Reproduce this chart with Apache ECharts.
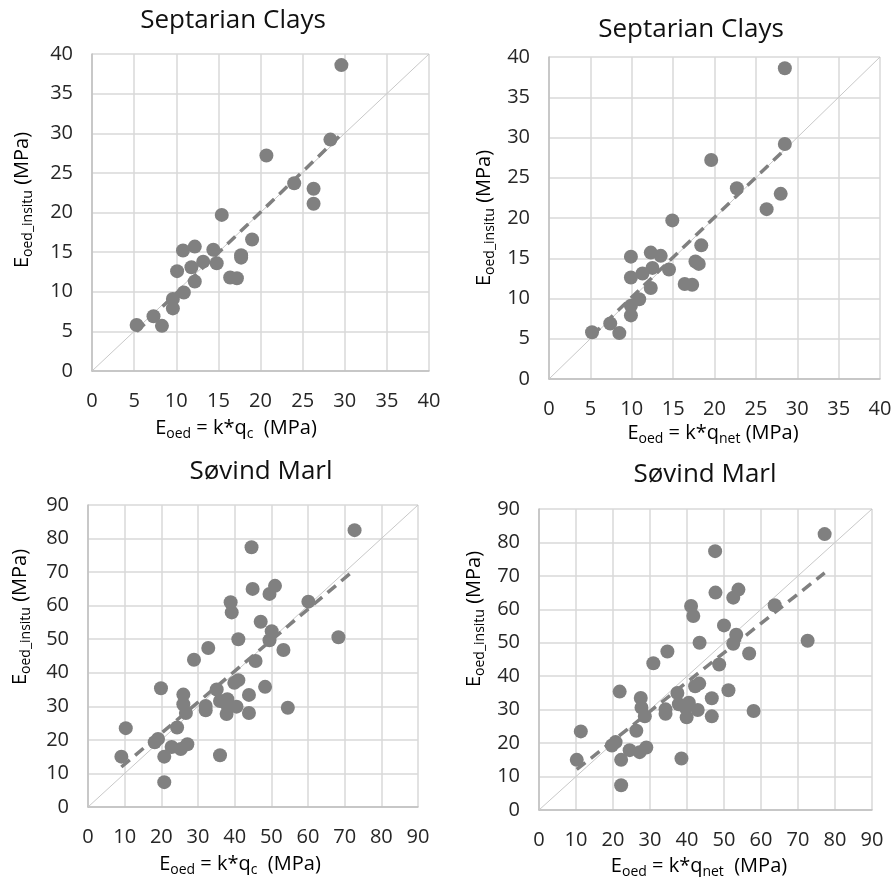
<!DOCTYPE html>
<html>
<head>
<meta charset="utf-8">
<script src="https://cdn.jsdelivr.net/npm/echarts@6/dist/echarts.min.js"></script>
<style>
html,body{margin:0;padding:0;background:#fff;}
#c{width:896px;height:882px;}
</style>
</head>
<body>
<div id="c"></div>
<script>
// ---- Septarian Clays ----
const sepY     = [38.6, 29.2, 27.2, 23.7, 23.0, 21.1, 19.7, 16.6, 15.7, 15.3, 15.2, 14.6, 14.3, 13.8, 13.6, 13.1, 12.6, 11.8, 11.7, 11.3, 9.9, 9.1, 7.9, 6.9, 5.7, 5.8];
const sepXqc   = [29.6, 28.3, 20.7, 24.0, 26.3, 26.3, 15.4, 19.0, 12.2, 14.4, 10.8, 17.7, 17.7, 13.2, 14.8, 11.8, 10.1, 16.4, 17.2, 12.2, 10.9, 9.6, 9.6, 7.3, 8.3, 5.3];
const sepXqnet = [28.5, 28.5, 19.6, 22.7, 28.0, 26.3, 14.9, 18.4, 12.3, 13.5, 9.9, 17.7, 18.1, 12.5, 14.5, 11.3, 9.9, 16.4, 17.3, 12.3, 10.9, 9.9, 9.9, 7.4, 8.5, 5.2];
// ---- Søvind Marl ----
const sovY     = [82.5, 77.4, 65.0, 65.9, 63.5, 61.2, 61.0, 58.0, 55.2, 52.4, 49.7, 50.0, 50.6, 46.8, 47.4, 43.9, 43.5, 37.8, 37.0, 35.8, 35.4, 35.0, 33.4, 33.5, 30.6, 28.0, 30.1, 28.8, 31.6, 32.1, 30.6, 29.9, 27.7, 28.0, 29.6, 23.5, 23.7, 20.3, 19.3, 17.9, 17.3, 18.7, 15.0, 15.4, 15.0, 7.4];
const sovXqc   = [72.7, 44.6, 44.9, 51.0, 49.5, 60.1, 38.9, 39.2, 47.1, 50.1, 49.5, 41.0, 68.3, 53.3, 32.8, 28.9, 45.7, 41.0, 39.9, 48.3, 19.9, 35.1, 43.9, 26.0, 26.0, 26.7, 32.1, 32.1, 36.0, 38.0, 37.8, 40.5, 37.8, 43.9, 54.5, 10.3, 24.3, 19.1, 18.2, 22.8, 25.3, 27.1, 20.8, 36.0, 9.1, 20.8];
const sovXqnet = [77.2, 47.6, 47.7, 53.9, 52.5, 63.7, 41.1, 41.7, 50.0, 53.3, 52.5, 43.4, 72.6, 56.8, 34.7, 30.9, 48.7, 43.3, 42.2, 51.2, 21.8, 37.4, 46.7, 27.5, 27.7, 28.6, 34.2, 34.2, 37.8, 40.5, 39.6, 42.9, 39.9, 46.7, 58.0, 11.3, 26.3, 20.7, 19.7, 24.5, 27.2, 29.0, 22.2, 38.5, 10.2, 22.2];

const sepTicks = [0, 40, 5];   // min, max, interval
const sovTicks = [0, 90, 10];
const titles = ['Septarian Clays', 'Septarian Clays', 'Søvind Marl', 'Søvind Marl'];

const FONT = '"Open Sans", "Noto Sans", sans-serif';

function pairs(xs, ys){ return xs.map((x,i)=>[x, ys[i]]); }
function trend(xs, ys){
  const n = xs.length;
  let sx=0, sy=0, sxx=0, sxy=0;
  for(let i=0;i<n;i++){ sx+=xs[i]; sy+=ys[i]; sxx+=xs[i]*xs[i]; sxy+=xs[i]*ys[i]; }
  const b = (n*sxy - sx*sy)/(n*sxx - sx*sx);
  const a = (sy - b*sx)/n;
  const x0 = Math.min(...xs), x1 = Math.max(...xs);
  return [[x0, a+b*x0],[x1, a+b*x1]];
}

const panels = [
  {xs: sepXqc,   ys: sepY, t: sepTicks},
  {xs: sepXqnet, ys: sepY, t: sepTicks},
  {xs: sovXqc,   ys: sovY, t: sovTicks},
  {xs: sovXqnet, ys: sovY, t: sovTicks}
];

const grids = [
  {left: 92,  top: 54,  width: 337, height: 317},
  {left: 549, top: 57,  width: 331, height: 322},
  {left: 88,  top: 505, width: 330, height: 302},
  {left: 539, top: 509, width: 333, height: 301}
];

function axis(t, isX, gi){
  return {
    type: 'value', gridIndex: gi, min: t[0], max: t[1], interval: t[2],
    axisLine: {show: true, lineStyle: {color: '#bfbfbf', width: 1.5}},
    axisTick: {show: false},
    splitLine: {show: true, showMinLine: true, showMaxLine: true, lineStyle: {color: '#d9d9d9', width: 1.5}},
    axisLabel: {color: '#262626', fontSize: 20, fontFamily: FONT, margin: isX ? 20 : 19}
  };
}

const xAxis = [], yAxis = [], series = [];
panels.forEach((p, i) => {
  xAxis.push(axis(p.t, true, i));
  yAxis.push(axis(p.t, false, i));
  series.push({
    type: 'line', xAxisIndex: i, yAxisIndex: i, symbol: 'none', silent: true, z: 1,
    data: [[p.t[0], p.t[0]], [p.t[1], p.t[1]]],
    lineStyle: {color: '#c8c8c8', width: 1}
  });
  series.push({
    type: 'scatter', xAxisIndex: i, yAxisIndex: i, symbolSize: 14, z: 2,
    data: pairs(p.xs, p.ys),
    itemStyle: {color: '#808080', opacity: 1}
  });
  series.push({
    type: 'line', xAxisIndex: i, yAxisIndex: i, symbol: 'none', silent: true, z: 3,
    data: trend(p.xs, p.ys),
    lineStyle: {color: '#808080', width: 3.5, type: [11, 7], cap: 'butt'}
  });
});

const rich = {
  a: {fontSize: 20, fontFamily: FONT, color: '#262626', lineHeight: 26},
  s: {fontSize: 14, fontFamily: FONT, color: '#262626', lineHeight: 14, verticalAlign: 'bottom'}
};
const xNames = [
  '{a|E}{s|oed}{a| = k*q}{s|c}{a|  (MPa)}',
  '{a|E}{s|oed}{a| = k*q}{s|net}{a| (MPa)}',
  '{a|E}{s|oed}{a| = k*q}{s|c}{a|  (MPa)}',
  '{a|E}{s|oed}{a| = k*q}{s|net}{a|  (MPa)}'
];
const yName = '{a|E}{s|oed_insitu}{a| (MPa)}';

const titlePos = [[233, 21], [691, 30], [261, 472], [705, 475]];
const xNamePos = [[236, 428], [713, 433], [240, 864], [699, 866]];
const yNamePos = [[22, 200], [484, 218], [20, 617], [474, 619]];

const graphic = [];
for (let i = 0; i < 4; i++) {
  graphic.push({type: 'text', x: titlePos[i][0], y: titlePos[i][1],
    style: {text: titles[i], fontSize: 26, fontFamily: FONT, fill: '#111', textAlign: 'center', textVerticalAlign: 'middle'}});
  graphic.push({type: 'text', x: xNamePos[i][0], y: xNamePos[i][1],
    style: {text: xNames[i], rich: rich, textAlign: 'center', textVerticalAlign: 'middle'}});
  graphic.push({type: 'text', x: yNamePos[i][0], y: yNamePos[i][1], rotation: Math.PI / 2,
    style: {text: yName, rich: rich, textAlign: 'center', textVerticalAlign: 'middle'}});
}

const chart = echarts.init(document.getElementById('c'), null, {renderer: 'canvas'});
chart.setOption({
  animation: false,
  backgroundColor: '#fff',
  grid: grids,
  xAxis: xAxis,
  yAxis: yAxis,
  series: series,
  graphic: graphic
});
</script>
</body>
</html>
